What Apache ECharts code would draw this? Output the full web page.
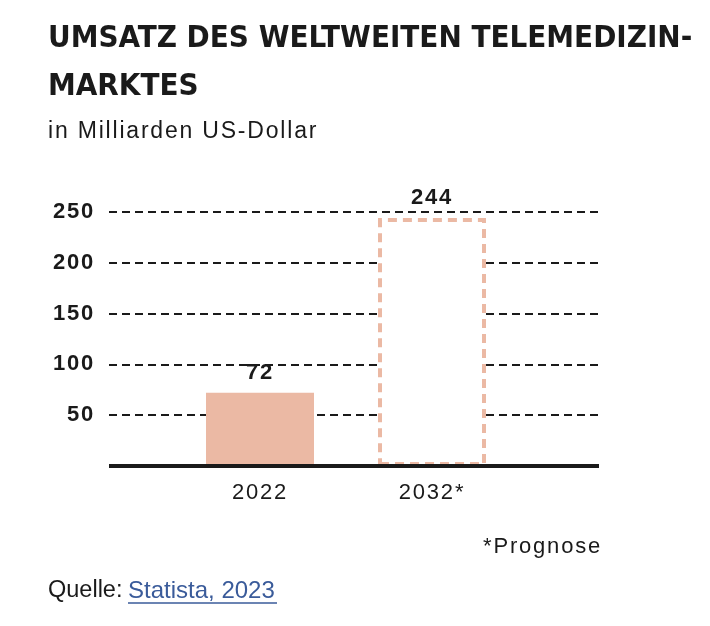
<!DOCTYPE html>
<html>
<head>
<meta charset="utf-8">
<script src="https://cdn.jsdelivr.net/npm/echarts@6/dist/echarts.min.js"></script>
<style>
html,body{margin:0;padding:0;background:#fff;}
#chart{width:710px;height:626px;}
</style>
</head>
<body>
<div id="chart"></div>
<script>
var categories = ['2022', '2032*'];
var values = [72, 244];
var forecast = [false, true];
var yTicks = [0, 50, 100, 150, 200, 250];

// tracking for the grotesque texts (canvas letterSpacing, keyed on the font string)
(function () {
  var proto = window.CanvasRenderingContext2D && CanvasRenderingContext2D.prototype;
  if (!proto || !('letterSpacing' in proto)) return;
  var desc = Object.getOwnPropertyDescriptor(proto, 'font');
  if (!desc) return;
  Object.defineProperty(proto, 'font', {
    configurable: true,
    get: function () { return desc.get.call(this); },
    set: function (v) {
      desc.set.call(this, v);
      this.letterSpacing = (/Liberation Sans/.test(v) && /(^|\s)2[23]px/.test(v)) ? '1.8px' : '0px';
    }
  });
})();

var chart = echarts.init(document.getElementById('chart'), null, {renderer: 'canvas'});
var barColor = '#ebb9a4';
var ink = '#1a1a1a';
var sans = '"Liberation Sans", Arial, sans-serif';

var seriesData = values.map(function (v, i) {
  if (forecast[i]) {
    return {
      value: v,
      itemStyle: {
        color: '#ffffff',
        borderColor: barColor,
        borderWidth: 4,
        borderType: [9, 6]
      }
    };
  }
  return { value: v, itemStyle: { color: barColor } };
});

var option = {
  animation: false,
  grid: [
    { left: 109, right: 111, top: 212, bottom: 160 },
    { left: 174, width: 344, top: 212, bottom: 160 }
  ],
  xAxis: [
    {
      gridIndex: 0, type: 'category', data: [''], z: 10,
      axisLine: { show: true, lineStyle: { color: ink, width: 4, cap: 'butt' } },
      axisTick: { show: false }, axisLabel: { show: false }, splitLine: { show: false }
    },
    {
      gridIndex: 1, type: 'category', data: categories,
      axisLine: { show: false }, axisTick: { show: false },
      axisLabel: { color: ink, fontSize: 22, fontFamily: sans, margin: 15 }
    }
  ],
  yAxis: [
    {
      gridIndex: 0, type: 'value', min: yTicks[0], max: yTicks[yTicks.length - 1], interval: 50,
      axisLine: { show: false }, axisTick: { show: false },
      axisLabel: {
        color: ink, fontSize: 22, fontWeight: 'bold', fontFamily: sans, margin: 14,
        formatter: function (v) { return v === 0 ? '' : String(v); }
      },
      splitLine: { show: true, lineStyle: { color: ink, width: 2, type: [8, 5] } }
    },
    {
      gridIndex: 1, type: 'value', min: yTicks[0], max: yTicks[yTicks.length - 1], interval: 50,
      show: false, splitLine: { show: false }
    }
  ],
  series: [{
    type: 'bar', xAxisIndex: 1, yAxisIndex: 1, barWidth: 108,
    data: seriesData,
    label: {
      show: true, position: 'top', distance: 8, color: ink,
      fontSize: 22, fontWeight: 'bold', fontFamily: sans
    }
  }],
  graphic: [
    { type: 'text', left: 48, top: 23, style: { text: 'UMSATZ DES WELTWEITEN TELEMEDIZIN-', fill: ink, font: 'bold 31px "DejaVu Sans Condensed", "DejaVu Sans", sans-serif' } },
    { type: 'text', left: 48, top: 71, style: { text: 'MARKTES', fill: ink, font: 'bold 31px "DejaVu Sans Condensed", "DejaVu Sans", sans-serif' } },
    { type: 'text', left: 48, top: 119, style: { text: 'in Milliarden US-Dollar', fill: ink, font: '23px ' + sans } },
    { type: 'text', right: 108, top: 535, style: { text: '*Prognose', fill: ink, font: '22px ' + sans } },
    { type: 'text', left: 48, top: 579, style: { text: 'Quelle:', fill: ink, font: '23.5px ' + sans } },
    { type: 'text', left: 128, top: 579, style: { text: 'Statista, 2023', fill: '#3a5b9a', font: '24px ' + sans } },
    { type: 'line', shape: { x1: 128, y1: 603, x2: 277, y2: 603 }, style: { stroke: '#3a5b9a', lineWidth: 1.5 } }
  ]
};
chart.setOption(option);
</script>
</body>
</html>
